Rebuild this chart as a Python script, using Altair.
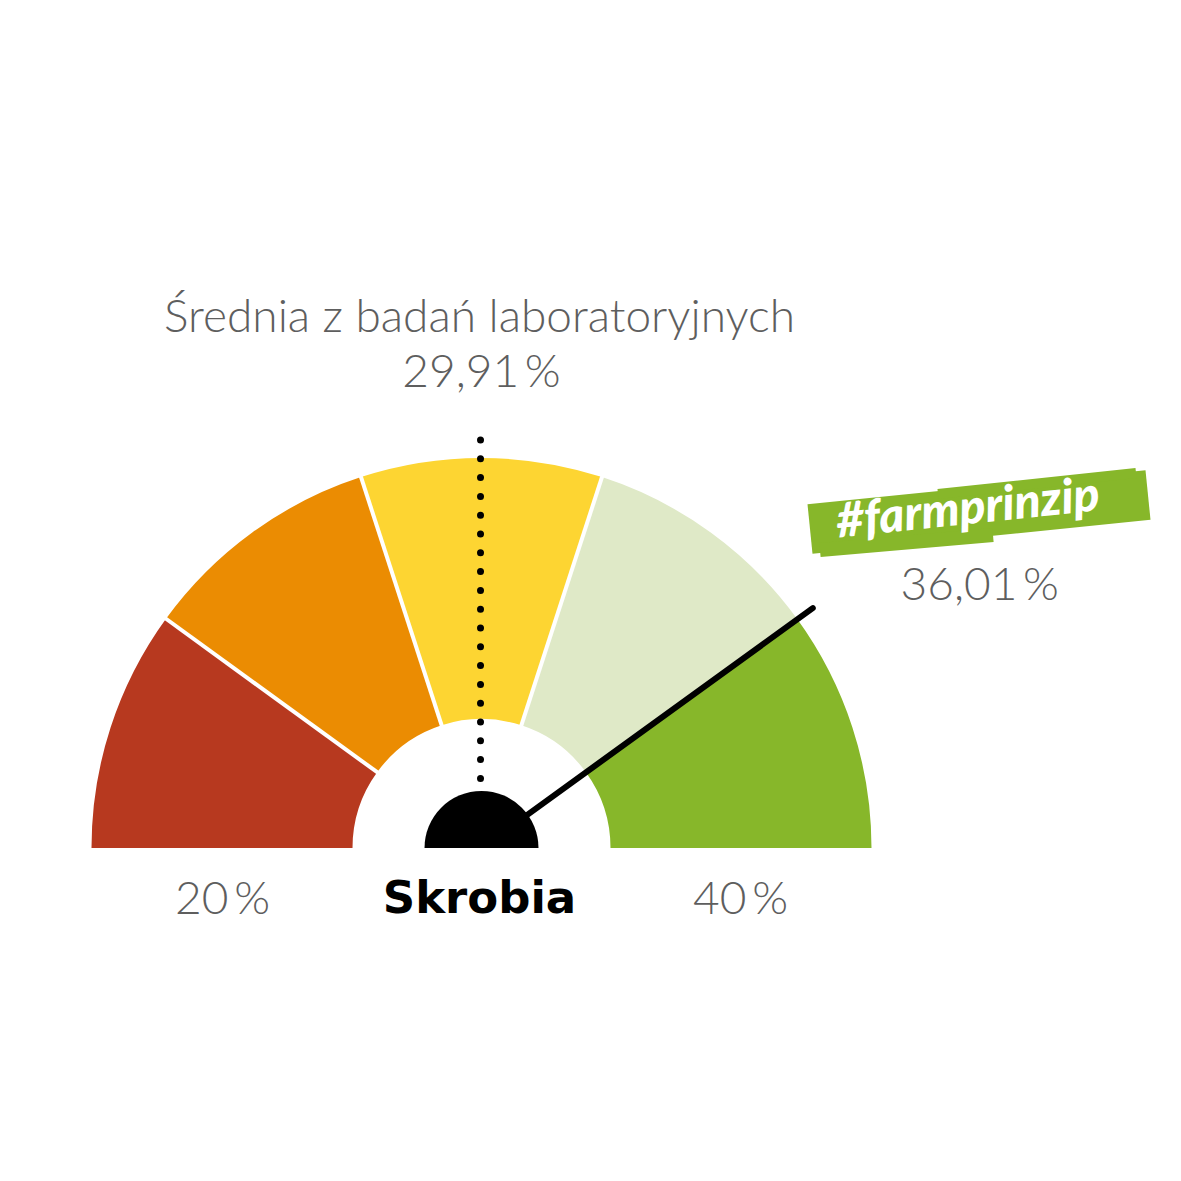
import math
import altair as alt
import pandas as pd

# ---- data ----
band_names = ["bardzo nisko", "nisko", "średnio", "wysoko", "bardzo wysoko"]
band_start = [20, 24, 28, 32, 36]
band_end = [24, 28, 32, 36, 40]
band_colors = ["#B7391F", "#EB8C02", "#FDD532", "#DFE9C7", "#87B72A"]
boundaries = [24, 28, 32, 36]
scale_min, scale_max = 20, 40
mean_value = 29.91
farm_value = 36.01
title_line = "Średnia z badań laboratoryjnych"
gauge_label = "Skrobia"
brand_label = "#farmprinzip"
end_labels = [20, 40]


def fmt(v, dec=2):
    return (f"{v:.{dec}f}".replace(".", ",") if dec else f"{v:.0f}") + "\u2009%"


# ---- layout ----
W, H = 1165, 1165
CX, CY = 473.5, 840
R_OUT, R_IN, R_HUB = 390, 129, 57
GRAY = "#5E5E5E"
FONT = "Lato"

theta_scale = alt.Scale(domain=[scale_min, scale_max], range=[1.5 * math.pi, 2.5 * math.pi])
ang = f"(1.5*PI + (datum.v - {scale_min})/({scale_max}-{scale_min})*PI)"


def polar(r, name_x, name_y):
    return {
        name_x: f"{CX} + {r}*sin({ang})",
        name_y: f"{CY} - {r}*cos({ang})",
    }


bands = pd.DataFrame({"band": band_names, "start": band_start, "end": band_end})

arcs = alt.Chart(bands).mark_arc(radius=R_OUT, radius2=R_IN).encode(
    x=alt.value(CX),
    y=alt.value(CY),
    theta=alt.Theta("start:Q", scale=theta_scale),
    theta2="end:Q",
    color=alt.Color("band:N", scale=alt.Scale(domain=band_names, range=band_colors), legend=None),
)

sep = alt.Chart(pd.DataFrame({"v": boundaries})).transform_calculate(
    **polar(R_IN - 3, "x1", "y1"), **polar(R_OUT + 3, "x2", "y2")
).mark_rule(color="white", strokeWidth=4).encode(
    x=alt.X("x1:Q", scale=None, axis=None),
    y=alt.Y("y1:Q", scale=None, axis=None),
    x2="x2:Q",
    y2="y2:Q",
)

hub = alt.Chart(pd.DataFrame({"start": [scale_min], "end": [scale_max]})).mark_arc(
    radius=R_HUB, color="black"
).encode(
    x=alt.value(CX),
    y=alt.value(CY),
    theta=alt.Theta("start:Q", scale=theta_scale),
    theta2="end:Q",
)

# dotted marker: vertical line rising from the mean position near the hub
mean_df = pd.DataFrame({"v": [mean_value]})
dots = alt.Chart(mean_df).transform_calculate(
    **polar(70, "xb", "yb")
).transform_calculate(
    x1="datum.xb", y1=f"{CY} - 408", x2="datum.xb", y2=f"{CY} - 66"
).mark_rule(color="black", strokeWidth=7, strokeCap="round", strokeDash=[0, 18.8]).encode(
    x=alt.X("x1:Q", scale=None, axis=None),
    y=alt.Y("y1:Q", scale=None, axis=None),
    x2="x2:Q",
    y2="y2:Q",
)

farm_df = pd.DataFrame({"v": [farm_value]})
needle = alt.Chart(farm_df).transform_calculate(
    **polar(45, "x1", "y1"), **polar(409, "x2", "y2")
).mark_rule(color="black", strokeWidth=6, strokeCap="round").encode(
    x=alt.X("x1:Q", scale=None, axis=None),
    y=alt.Y("y1:Q", scale=None, axis=None),
    x2="x2:Q",
    y2="y2:Q",
)

farm_label = alt.Chart(farm_df).transform_calculate(
    **polar(409, "tx", "ty"), lab="'" + fmt(farm_value) + "'"
).transform_calculate(lx="datum.tx + 167", ly="datum.ty - 8").mark_text(
    font=FONT, fontWeight=300, fontSize=46, color=GRAY, align="center", baseline="alphabetic"
).encode(
    x=alt.X("lx:Q", scale=None, axis=None),
    y=alt.Y("ly:Q", scale=None, axis=None),
    text="lab:N",
)

title1 = alt.Chart(pd.DataFrame({"t": [title_line]})).mark_text(
    font=FONT, fontWeight=300, fontSize=46, color=GRAY, align="center", baseline="alphabetic"
).encode(x=alt.value(CX - 2), y=alt.value(324), text="t:N")

title2 = alt.Chart(pd.DataFrame({"t": [fmt(mean_value)]})).mark_text(
    font=FONT, fontWeight=300, fontSize=46, color=GRAY, align="center", baseline="alphabetic"
).encode(x=alt.value(CX), y=alt.value(379), text="t:N")

ends = pd.DataFrame({"v": end_labels, "t": [fmt(v, 0) for v in end_labels]})
end_text = alt.Chart(ends).transform_calculate(**polar(259, "lx", "ly")).mark_text(
    font=FONT, fontWeight=300, fontSize=46, color=GRAY, align="center", baseline="alphabetic", dy=66
).encode(
    x=alt.X("lx:Q", scale=None, axis=None),
    y=alt.Y("ly:Q", scale=None, axis=None),
    text="t:N",
)

gauge_text = alt.Chart(pd.DataFrame({"t": [gauge_label]})).mark_text(
    font="DejaVu Sans", fontWeight="bold", fontSize=45, color="black", align="center", baseline="alphabetic"
).encode(x=alt.value(CX - 2), y=alt.value(905), text="t:N")

# brush banner
GREEN = band_colors[-1]
one = pd.DataFrame({"k": [0]})
brush_main = alt.Chart(one).mark_rule(color=GREEN, strokeWidth=50).encode(
    x=alt.value(802), y=alt.value(521), x2=alt.value(1140), y2=alt.value(487)
)
brush_top = alt.Chart(one).mark_rule(color=GREEN, strokeWidth=10).encode(
    x=alt.value(930), y=alt.value(486), x2=alt.value(1128), y2=alt.value(465)
)
brush_bottom = alt.Chart(one).mark_rule(color=GREEN, strokeWidth=14).encode(
    x=alt.value(812), y=alt.value(542), x2=alt.value(985), y2=alt.value(527)
)
brush_streak = alt.Chart(one).mark_rule(
    color="white", strokeWidth=2, strokeDash=[14, 6]
).encode(x=alt.value(890), y=alt.value(546), x2=alt.value(990), y2=alt.value(537))
brand = alt.Chart(pd.DataFrame({"t": [brand_label]})).mark_text(
    font=FONT, fontStyle="italic", fontWeight=900, fontSize=48, color="white",
    align="center", baseline="middle", angle=354
).encode(x=alt.value(960), y=alt.value(502), text="t:N")

chart = alt.layer(
    arcs, sep, dots, needle, hub, title1, title2, end_text, gauge_text,
    brush_main, brush_top, brush_bottom, brush_streak, brand, farm_label
).properties(
    width=W, height=H, padding=0, autosize=alt.AutoSizeParams(type="none")
).configure_view(stroke=None)

chart.save("out.html", embed_options={"renderer": "svg", "actions": False})
